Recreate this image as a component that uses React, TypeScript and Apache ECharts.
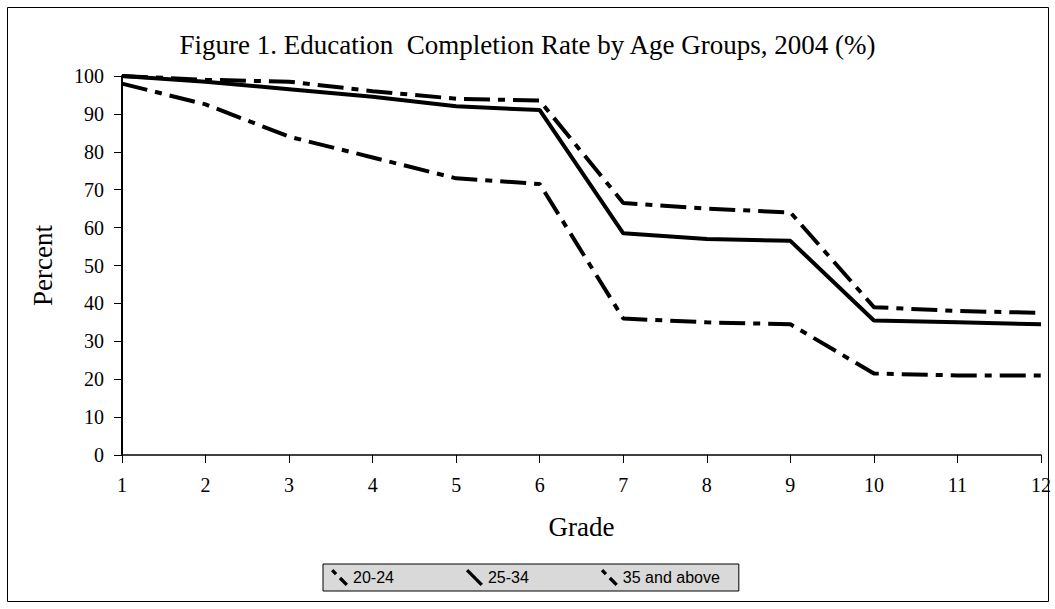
import React, { useEffect, useRef } from "react";
import * as echarts from "echarts";

const grades = [1, 2, 3, 4, 5, 6, 7, 8, 9, 10, 11, 12];
const seriesNames = ["20-24", "25-34", "35 and above"];
const age2024 = [100, 99, 98.5, 96, 94, 93.5, 66.5, 65, 64, 39, 38, 37.5];
const age2534 = [100, 98.5, 96.5, 94.5, 92, 91, 58.5, 57, 56.5, 35.5, 35, 34.5];
const age35 = [98, 92.5, 84, 78.5, 73, 71.5, 36, 35, 34.5, 21.5, 21, 21];
const yTicks = [0, 10, 20, 30, 40, 50, 60, 70, 80, 90, 100];

const dashIcon =
  "path://M2.2,-0.2 L6.2,3.8 L3.8,6.2 L-0.2,2.2 Z M10.2,7.8 L17.2,14.8 L14.8,17.2 L7.8,10.2 Z";
const solidIcon = "path://M2.2,-0.2 L17.2,14.8 L14.8,17.2 L-0.2,2.2 Z";

export default function App() {
  const ref = useRef<HTMLDivElement>(null);
  useEffect(() => {
    document.body.style.margin = "0";
    const chart = echarts.init(ref.current!, null, { renderer: "svg" });
    const serif = "'Liberation Serif', 'Times New Roman', serif";
    const mk = (name: string, vals: number[], type: any) => ({
      name,
      type: "line",
      data: grades.map((g, i) => [g, vals[i]]),
      symbol: "none",
      lineStyle: { color: "#000", width: 4, type },
      itemStyle: { color: "#000" },
    });
    chart.setOption({
      animation: false,
      backgroundColor: "#fff",
      title: {
        text: "Figure 1. Education  Completion Rate by Age Groups, 2004 (%)",
        left: "center",
        top: 26,
        textStyle: { fontFamily: serif, fontSize: 27, fontWeight: "normal", color: "#000" },
      },
      grid: { left: 122, right: 14, top: 76, bottom: 154 },
      legend: {
        left: 323,
        top: 564,
        data: [
          { name: seriesNames[0], icon: dashIcon },
          { name: seriesNames[1], icon: solidIcon },
          { name: seriesNames[2], icon: dashIcon },
        ],
        itemWidth: 17,
        itemHeight: 18,
        itemGap: 72,
        padding: [5, 19, 5, 8],
        backgroundColor: "#d9d9d9",
        borderColor: "#000",
        borderWidth: 1,
        borderRadius: 0,
        textStyle: { fontFamily: "'Liberation Sans', Arial, sans-serif", fontSize: 16, color: "#000" },
      },
      xAxis: {
        type: "value",
        min: 1,
        max: 12,
        interval: 1,
        name: "Grade",
        nameLocation: "middle",
        nameGap: 58,
        nameTextStyle: { fontFamily: serif, fontSize: 27, color: "#000" },
        axisLine: { show: true, onZero: false, lineStyle: { color: "#000", width: 1.5 } },
        axisTick: { show: true, length: 8, lineStyle: { color: "#000" } },
        axisLabel: { fontFamily: serif, fontSize: 20, color: "#000", margin: 20 },
        splitLine: { show: false },
      },
      yAxis: {
        type: "value",
        min: yTicks[0],
        max: yTicks[yTicks.length - 1],
        interval: 10,
        name: "Percent",
        nameLocation: "middle",
        nameGap: 66,
        nameRotate: 90,
        nameTextStyle: { fontFamily: serif, fontSize: 27, color: "#000" },
        axisLine: { show: true, lineStyle: { color: "#000", width: 2 } },
        axisTick: { show: true, length: 8, lineStyle: { color: "#000" } },
        axisLabel: { fontFamily: serif, fontSize: 20, color: "#000", margin: 18 },
        splitLine: { show: false },
      },
      graphic: [
        {
          type: "rect",
          shape: { x: 7.5, y: 7.5, width: 1041, height: 594 },
          style: { fill: "none", stroke: "#000", lineWidth: 1 },
          silent: true,
        },
      ],
      series: [
        mk(seriesNames[0], age2024, [26, 8, 7, 8]),
        mk(seriesNames[1], age2534, "solid"),
        mk(seriesNames[2], age35, [26, 8, 7, 8]),
      ],
    });
    return () => chart.dispose();
  }, []);
  return <div ref={ref} style={{ width: 1055, height: 609 }} />;
}
